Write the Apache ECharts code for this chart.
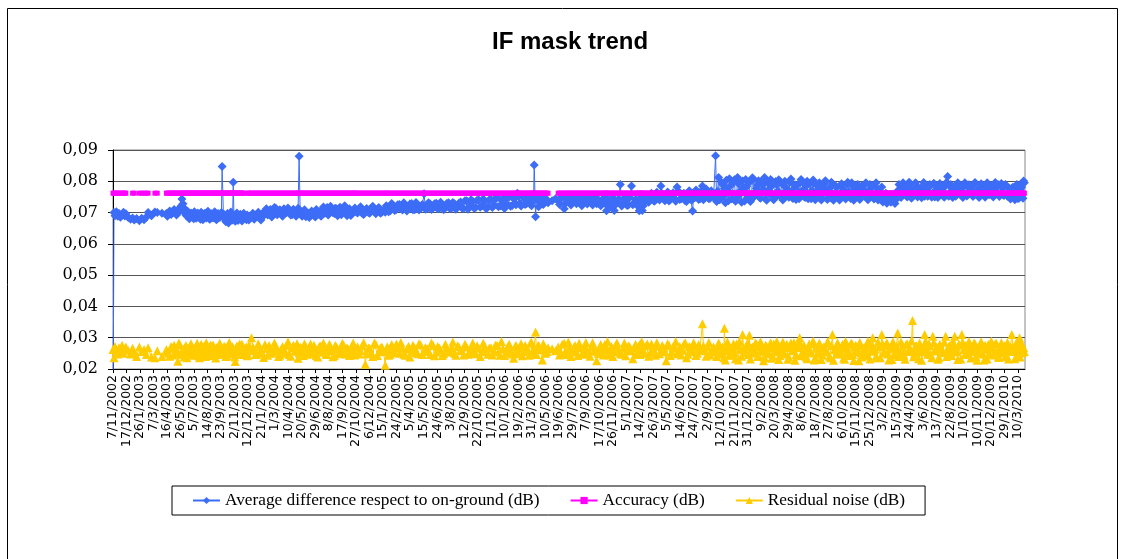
<!DOCTYPE html>
<html><head><meta charset="utf-8">
<script src="https://cdn.jsdelivr.net/npm/echarts@6/dist/echarts.min.js"></script>
<style>html,body{margin:0;padding:0;background:#fff}#c{width:1128px;height:559px}</style>
</head><body><div id="c"></div>
<script>
// x positions are days counted from 7/11/2002
const tickLabels = ['7/11/2002','17/12/2002','26/1/2003','7/3/2003','16/4/2003','26/5/2003','5/7/2003','14/8/2003','23/9/2003','2/11/2003','12/12/2003','21/1/2004','1/3/2004','10/4/2004','20/5/2004','29/6/2004','8/8/2004','17/9/2004','27/10/2004','6/12/2004','15/1/2005','24/2/2005','5/4/2005','15/5/2005','24/6/2005','3/8/2005','12/9/2005','22/10/2005','1/12/2005','10/1/2006','19/2/2006','31/3/2006','10/5/2006','19/6/2006','29/7/2006','7/9/2006','17/10/2006','26/11/2006','5/1/2007','14/2/2007','26/3/2007','5/5/2007','14/6/2007','24/7/2007','2/9/2007','12/10/2007','21/11/2007','31/12/2007','9/2/2008','20/3/2008','29/4/2008','8/6/2008','18/7/2008','27/8/2008','6/10/2008','15/11/2008','25/12/2008','3/2/2009','15/3/2009','24/4/2009','3/6/2009','13/7/2009','22/8/2009','1/10/2009','10/11/2009','20/12/2009','29/1/2010','10/3/2010'];
const yTicks = [0.02,0.03,0.04,0.05,0.06,0.07,0.08,0.09];
const seriesNames = ['Average difference respect to on-ground (dB)','Accuracy (dB)','Residual noise (dB)'];
// values below are in units of 1e-4 dB
const SCALE = 10000;
const days = [0,3,6,10,14,18,22,27,31,35,38,
45,52,58,63,70,78,85,92,99,104,114,124,131,145,
158,165,172,178,185,192,198,204,209,214,219,224,229,234,239,244,249,254,259,264,269,274,279,284,289,294,299,304,309,314,319,323,327,332,337,342,347,352,356,360,365,370,375,380,385,390,395,400,405,
410,418,426,434,442,450,458,466,474,482,490,498,506,514,522,530,538,545,551,557,564,571,578,585,592,599,606,613,620,627,634,641,648,655,662,669,676,683,690,697,704,711,
720,729,738,747,756,765,774,783,792,801,806,812,821,830,839,848,857,866,875,884,893,902,911,921,930,939,948,957,966,975,984,993,1002,1011,1020,1029,1038,1047,1056,1065,1074,1083,1092,1101,1110,1119,1128,1137,1146,1155,1164,1173,1182,1190,1197,1204,1212,1220,1228,1236,1242,1247,1251,1257,1264,1271,1278,1285,
1300,1310,
1318,1326,1336,1344,1352,1360,1368,1376,1384,1392,1400,1408,1416,1424,1432,1440,1448,1456,1461,1468,1476,1484,1492,1502,1510,1518,1526,1535,1543,1551,1558,1563,1567,1574,1582,1590,1598,1606,1614,1622,1630,1638,1646,1654,1662,1670,1678,1686,1694,1702,1710,1716,1722,1730,1738,1745,1752,1760,1768,1775,
1781,1784,1790,1796,1802,1808,1810,1816,1822,1828,1834,1840,1846,1852,1858,1864,1870,1876,1882,1884,1890,1896,1902,1908,1914,1920,1926,1932,1938,1944,1950,1956,1962,1968,1974,1980,1986,1992,1998,2004,2010,2016,2022,2028,2033,2040,2046,2052,2058,2064,2070,2076,2082,2088,2094,2100,2106,2112,2118,2124,2130,2136,2142,2148,2154,2160,2166,2172,2178,2184,2190,2196,2202,2208,2214,2220,2226,2232,2238,2244,2249,2256,2262,2268,2276,2282,2288,2294,2300,2306,2312,2318,2323,2330,2336,2342,2348,2354,2360,2367,2373,2379,2385,2391,2397,2403,2409,2415,2421,2427,2433,2439,2445,2451,2457,2465,2471,2477,2483,2489,2492,2498,2504,2510,2513,2519,2525,2531,2537,2543,2549,2555,2561,2567,2573,2579,2585,2591,2597,2603,2609,2615,2621,2627,2633,2639,2645,2651,2657,2661,2667,2673,2679,2684,2688,2692,2696];
const avgDiff = [0,700,690,703,688,697,685,694,701,689,696,
684,679,683,676,681,674,682,677,686,700,690,702,700,698,
697,701,694,703,699,708,712,743,716,703,688,696,684,692,680,697,686,693,679,690,684,698,687,692,681,695,686,691,680,689,694,847,685,678,690,667,684,689,797,681,688,675,686,679,690,683,677,688,682,
686,679,691,683,697,705,692,710,699,714,702,695,712,700,708,693,704,697,880,693,699,687,697,690,700,686,694,703,711,698,716,704,709,697,712,700,693,706,696,703,691,701,
702,712,697,708,700,715,703,711,698,707,701,716,706,722,710,726,708,721,712,729,709,724,714,760,712,727,715,730,713,726,716,731,714,728,717,734,713,738,720,736,716,740,722,737,719,742,724,747,721,745,728,750,723,748,762,730,752,726,749,733,751,852,687,740,753,729,747,735,
738,744,
738,745,712,740,733,747,736,744,731,742,737,746,733,741,728,738,730,735,706,733,725,707,734,790,728,736,724,785,731,737,706,729,707,738,746,741,754,739,748,785,743,751,737,749,745,782,742,753,738,750,744,705,747,758,744,785,752,763,746,757,
752,882,768,741,795,752,778,803,738,786,760,805,745,792,770,801,737,783,758,797,742,806,765,789,748,800,773,744,795,760,785,741,799,768,753,792,746,781,762,797,749,776,742,790,765,798,751,784,744,793,770,748,789,756,782,745,791,761,776,747,788,758,780,744,786,763,749,790,767,745,783,757,788,748,776,760,789,746,772,758,785,751,778,747,782,740,762,736,758,739,755,742,770,752,781,760,786,754,775,762,788,755,779,761,784,752,776,758,787,763,750,782,759,777,754,786,815,761,779,756,784,766,789,758,781,763,787,757,778,762,790,759,775,764,788,756,780,768,786,757,777,765,789,760,779,755,784,762,743,776,748,782,745,770,790,758,801];
const accuracy = [762,762,762,762,762,762,762,762,762,762,762,
null,null,762,762,null,762,762,762,762,762,null,762,762,null,
762,762,762,762,762,762,762,762,762,762,762,762,762,762,762,762,762,762,762,762,762,762,762,762,762,762,762,762,762,762,762,762,762,762,762,762,762,762,762,762,762,762,762,762,762,null,null,762,762,
762,762,762,762,762,762,762,762,762,762,762,762,762,762,762,762,762,762,762,762,762,762,762,762,762,762,762,762,762,762,762,762,762,762,762,762,762,762,762,762,762,762,
762,762,762,762,762,762,762,762,762,762,762,762,762,762,762,762,762,762,762,762,762,762,762,762,762,762,762,762,762,762,762,762,762,762,762,762,762,762,762,762,762,762,762,762,762,762,762,762,762,762,762,762,762,762,762,762,762,762,762,762,762,762,762,762,762,762,762,762,
null,null,
762,762,762,762,762,762,762,762,762,762,762,762,762,762,762,762,762,762,762,762,762,762,762,762,762,762,762,762,762,762,762,762,762,762,762,762,762,762,762,762,762,762,762,762,762,762,762,762,762,762,762,762,762,762,762,762,762,762,762,762,
762,762,762,762,762,762,762,762,762,762,762,762,762,762,762,762,762,762,762,762,762,762,762,762,762,762,762,762,762,762,762,762,762,762,762,762,762,762,762,762,762,762,762,762,762,762,762,762,762,762,762,762,762,762,762,762,762,762,762,762,762,762,762,762,762,762,762,762,762,762,762,762,762,762,762,762,762,762,762,762,762,762,762,762,762,762,762,762,762,762,762,762,762,762,762,762,762,762,762,762,762,762,762,762,762,762,762,762,762,762,762,762,762,762,762,762,762,762,762,762,762,762,762,762,762,762,762,762,762,762,762,762,762,762,762,762,762,762,762,762,762,762,762,762,762,762,762,762,762,762,762,762,762,762,762,762,762];
const noise = [262,236,272,255,248,268,258,276,250,262,270,
260,248,266,252,240,270,256,262,246,268,238,236,258,240,
262,250,272,245,266,225,278,258,248,270,236,262,274,246,265,254,282,242,268,256,273,240,262,251,277,247,266,235,259,272,248,264,253,270,243,262,276,250,260,238,268,255,280,248,263,252,270,245,262,
300,258,247,270,252,278,244,265,255,273,240,262,250,276,246,268,257,281,252,266,243,271,256,280,248,262,238,274,255,267,246,279,258,243,270,252,265,276,248,262,255,283,
262,248,274,215,267,252,283,243,268,256,212,271,247,262,280,250,266,244,273,257,268,249,277,258,265,246,275,254,268,243,279,257,266,250,274,261,245,270,256,283,249,266,255,272,247,268,258,276,244,264,253,279,248,270,256,266,242,275,258,283,251,268,318,272,262,229,270,256,
265,258,
270,252,282,246,266,258,275,243,268,254,285,249,270,257,226,266,250,278,259,245,272,256,283,250,266,242,274,258,268,247,277,255,264,250,280,252,266,244,273,258,268,226,276,255,267,249,272,260,284,247,268,256,273,250,266,345,258,270,245,265,
262,255,273,248,266,236,330,258,275,244,268,252,280,229,263,310,254,272,246,308,266,251,283,240,270,257,226,276,249,268,234,280,255,265,243,277,252,269,231,274,258,284,246,268,300,252,275,238,266,256,282,229,270,250,276,245,268,256,283,236,310,262,248,274,255,279,231,268,252,280,246,270,258,226,275,254,269,242,281,257,300,264,236,272,310,254,276,248,268,230,274,258,315,250,270,244,278,256,266,355,250,274,233,268,255,310,262,280,246,305,258,271,237,268,252,305,258,274,243,267,305,255,279,232,310,262,276,248,270,256,283,240,268,252,275,229,264,278,248,270,256,282,238,266,252,274,260,232,270,310,256,276,244,300,262,252,268];

// further readings between the ones above
const extraDays = [161,168,175,181,188,195,201,207,211,216,221,226,231,236,241,246,251,256,261,266,271,276,281,286,291,296,301,306,311,316,321,329,334,339,344,349,354,358,362,367,372,377,382,387,392,397,402,
414,422,430,438,446,454,462,470,478,486,494,502,510,518,526,534,542,548,554,560,567,574,581,588,595,602,609,616,623,630,637,644,651,658,665,672,679,686,693,700,707,715,
716,724,733,742,751,760,769,778,787,796,809,816,825,834,843,852,861,870,879,888,897,906,916,925,934,943,952,961,970,979,988,997,1006,1015,1024,1033,1042,1051,1060,1069,1078,1087,1096,1105,1114,1123,1132,1141,1150,1159,1168,1177,1186,1193,1200,1208,1216,1224,1232,1239,1245,1254,1260,1267,1274,1281,1288,
1322,1330,1340,1348,1356,1364,1372,1380,1388,1396,1404,1412,1420,1428,1436,1444,1452,1458,1464,1472,1480,1488,1497,1506,1514,1522,1530,1539,1547,1554,1560,1565,1570,1578,1586,1594,1602,1610,1618,1626,1634,1642,1650,1658,1666,1674,1682,1690,1698,1706,1713,1719,1726,1734,1741,1748,1756,1764,1771,1778,
1787,1793,1799,1805,1813,1819,1825,1831,1837,1843,1849,1855,1861,1867,1873,1879,1887,1893,1899,1905,1911,1917,1923,1929,1935,1941,1947,1953,1959,1965,1971,1977,1983,1989,1995,2001,2007,2013,2019,2025,2031,2037,2043,2049,2055,2061,2067,2073,2079,2085,2091,2097,2103,2109,2115,2121,2127,2133,2139,2145,2151,2157,2163,2169,2175,2181,2187,2193,2199,2205,2211,2217,2223,2229,2235,2241,2247,2253,2259,2265,2272,2279,2285,2291,2297,2303,2309,2315,2320,2327,2333,2339,2345,2351,2357,2364,2370,2376,2382,2388,2394,2400,2406,2412,2418,2424,2430,2436,2442,2448,2454,2461,2468,2474,2480,2486,2495,2501,2507,2516,2522,2528,2534,2540,2546,2552,2558,2564,2570,2576,2582,2588,2594,2600,2606,2612,2618,2624,2630,2636,2642,2648,2654,2664,2670,2676,2682,2686,2690,2694,2698];
const extraAvgDiff = [688,705,699,710,692,702,720,728,700,692,704,680,699,687,703,682,699,684,701,677,697,683,704,679,696,683,703,677,697,684,700,694,671,697,683,702,676,690,672,699,684,695,673,698,688,692,676,
698,688,701,676,690,712,699,686,716,693,709,688,703,715,692,711,688,714,704,688,709,695,684,705,691,710,699,688,718,706,692,720,700,714,690,717,704,722,690,712,697,708,
715,699,719,694,713,698,720,696,716,701,722,703,729,707,725,712,731,705,727,709,732,708,726,711,731,710,728,712,733,709,729,713,732,711,730,715,738,711,741,714,739,717,743,712,741,716,745,719,740,713,748,720,744,725,751,721,746,728,754,722,738,749,719,752,726,745,731,
726,751,730,749,724,752,728,747,722,750,727,748,724,753,735,722,746,727,744,720,747,726,743,721,745,723,748,725,742,720,746,735,722,752,733,762,736,765,740,760,738,766,742,763,736,768,744,762,735,770,739,758,772,742,768,741,775,744,770,749,
735,812,749,790,731,770,808,744,795,736,812,758,733,781,806,748,735,811,752,777,802,746,788,812,739,772,806,751,747,790,805,758,740,800,771,749,807,745,789,753,744,806,772,748,800,762,744,804,741,771,795,740,777,802,742,768,797,739,786,752,740,792,771,743,797,755,795,739,769,790,742,786,764,795,741,790,752,743,795,740,760,734,755,730,752,733,758,729,748,790,748,795,767,750,797,746,780,795,750,772,747,796,770,752,790,749,794,766,748,793,772,749,797,752,790,748,752,795,770,748,795,753,789,768,751,796,760,748,792,771,749,795,757,782,750,796,766,751,793,755,790,752,778,781,741,790,746,773,781,746,795];
const extraAccuracy = [762,762,762,762,762,762,762,762,762,762,762,762,762,762,762,762,762,762,762,762,762,762,762,762,762,762,762,762,762,762,762,762,762,762,762,762,762,762,762,762,762,762,762,762,null,null,762,
762,762,762,762,762,762,762,762,762,762,762,762,762,762,762,762,762,762,762,762,
762,762,762,762,762,762,762,762,762,762,762,762,762,762,762,762,762,762,762,762,
762,762,762,762,762,762,762,762,762,762,762,762,762,762,762,762,762,762,762,762,
762,762,762,762,762,762,762,762,762,762,762,762,762,762,762,762,762,762,762,762,
762,762,762,762,762,762,762,762,762,762,762,762,762,762,762,762,762,762,762,762,
762,762,762,762,762,762,762,762,762,762,762,762,762,762,762,762,762,762,762,762,
762,762,762,762,762,762,762,762,762,762,762,762,762,762,762,762,762,762,762,762,
762,762,762,762,762,762,762,762,762,762,762,762,762,762,762,762,762,762,762,762,
762,762,762,762,762,762,762,762,762,762,762,762,762,762,762,762,762,762,762,762,
762,762,762,762,762,762,762,762,762,762,762,762,762,762,762,762,762,762,762,762,
762,762,762,762,762,762,762,762,762,762,762,762,762,762,762,762,762,762,762,762,
762,762,762,762,762,762,762,762,762,762,762,762,762,762,762,762,762,762,762,762,
762,762,762,762,762,762,762,762,762,762,762,762,762,762,762,762,762,762,762,762,
762,762,762,762,762,762,762,762,762,762,762,762,762,762,762,762,762,762,762,762,
762,762,762,762,762,762,762,762,762,762,762,762,762,762,762,762,762,762,762,762,
762,762,762,762,762,762,762,762,762,762,762,762,762,762,762,762,762,762,762,762];
const extraNoise = [255,241,268,276,252,283,247,264,239,275,268,250,281,257,244,272,261,236,279,248,266,284,252,270,243,277,255,269,246,282,258,273,240,267,285,249,271,256,224,274,262,246,279,254,268,242,275,
270,246,281,258,237,266,275,250,283,261,244,272,256,287,241,276,262,234,270,255,281,247,268,259,276,243,269,254,283,248,271,258,239,275,264,249,282,257,268,243,273,260,
245,271,258,284,249,266,240,279,255,270,262,244,278,253,268,285,247,264,238,276,253,281,246,269,257,283,242,272,260,249,267,254,286,244,271,258,279,247,265,252,274,240,282,259,267,245,276,254,288,243,270,260,234,276,249,281,256,268,244,285,258,246,275,262,281,250,268,
245,279,258,286,240,269,254,282,247,273,259,241,284,262,250,278,245,268,288,254,240,276,262,247,283,258,270,233,279,256,246,287,252,274,241,280,259,284,249,275,255,281,243,270,288,259,245,279,236,272,255,284,243,278,260,274,241,285,257,270,
240,283,251,270,229,286,245,262,281,233,274,288,241,265,253,285,232,270,258,279,244,287,262,236,273,251,284,241,269,288,230,265,286,248,279,238,283,259,228,271,287,242,273,260,233,280,251,289,237,266,282,230,270,254,286,241,275,228,263,284,249,271,235,288,260,243,282,227,276,254,285,238,267,250,289,232,274,259,241,286,236,279,252,284,229,266,287,244,272,240,286,251,231,280,262,290,239,273,255,283,228,266,288,247,275,236,284,258,231,279,263,286,240,272,252,288,261,230,277,284,246,273,288,235,266,281,228,259,287,248,276,232,268,289,245,281,254,237,284,262,240,285,256,272,233,287,262,238,282,270,256];

// merge all readings in date order
const rows = [];
days.forEach(function(d,i){ rows.push([d, avgDiff[i], accuracy[i], noise[i]]); });
extraDays.forEach(function(d,i){ rows.push([d, extraAvgDiff[i], extraAccuracy[i], extraNoise[i]]); });
rows.sort(function(a,b){ return a[0]-b[0]; });
function pts(col){ return rows.map(function(r){ return [r[0], r[col]==null ? '-' : r[col]/SCALE]; }); }

const chart = echarts.init(document.getElementById('c'), null, {renderer:'canvas'});
chart.setOption({
  animation:false,
  backgroundColor:'#fff',
  title:{text:'IF mask trend', left:492, top:30, padding:0,
    textStyle:{fontFamily:'Liberation Sans', fontWeight:'bold', fontSize:24, color:'#000'}},
  graphic:[{type:'rect', silent:true, shape:{x:7.5,y:8.5,width:1110,height:600}, style:{fill:'none', stroke:'#000', lineWidth:1}}],
  legend:{left:172, top:486, itemWidth:27, itemHeight:9, itemGap:30, padding:[6,20],
    borderColor:'#000', borderWidth:1,
    textStyle:{fontFamily:'Liberation Serif', fontSize:17.3, color:'#000'}, data:seriesNames},
  grid:{left:113, right:103, top:150, bottom:190, show:true, borderColor:'#888', borderWidth:1, backgroundColor:'transparent'},
  xAxis:{type:'value', min:0, max:2700, interval:40,
    axisLine:{show:true, lineStyle:{color:'#000', width:1}},
    axisTick:{show:true, length:4, lineStyle:{color:'#000'}},
    splitLine:{show:false},
    axisLabel:{rotate:90, margin:6, fontFamily:'DejaVu Sans', fontSize:12.5, color:'#000', showMaxLabel:false,
      formatter:function(v){ var k=Math.round(v/40); return (Math.abs(v-k*40)<1e-6 && k<tickLabels.length) ? tickLabels[k] : ''; }}},
  yAxis:{type:'value', min:yTicks[0], max:yTicks[yTicks.length-1], interval:0.01,
    axisLine:{show:true, lineStyle:{color:'#000', width:1}},
    axisTick:{show:true, length:5, lineStyle:{color:'#000'}},
    splitLine:{show:true, lineStyle:{color:'#555', width:1}},
    axisLabel:{margin:15, fontFamily:'DejaVu Serif', fontSize:16, color:'#000',
      formatter:function(v){ return v.toFixed(2).replace('.', ','); }}},
  series:[
    {name:seriesNames[0], type:'line', data:pts(1), symbol:'diamond', symbolSize:9, showAllSymbol:true, clip:true,
      lineStyle:{color:'#3d6df7', width:1}, itemStyle:{color:'#3d6df7'}, z:2},
    {name:seriesNames[1], type:'line', data:pts(2), symbol:'rect', symbolSize:5, showAllSymbol:true,
      lineStyle:{color:'#ff00ff', width:2.5}, itemStyle:{color:'#ff00ff'}, z:3},
    {name:seriesNames[2], type:'line', data:pts(3), symbol:'triangle', symbolSize:9, showAllSymbol:true,
      lineStyle:{color:'#ffcc00', width:1}, itemStyle:{color:'#ffcc00'}, z:4}
  ]
});
</script></body></html>
